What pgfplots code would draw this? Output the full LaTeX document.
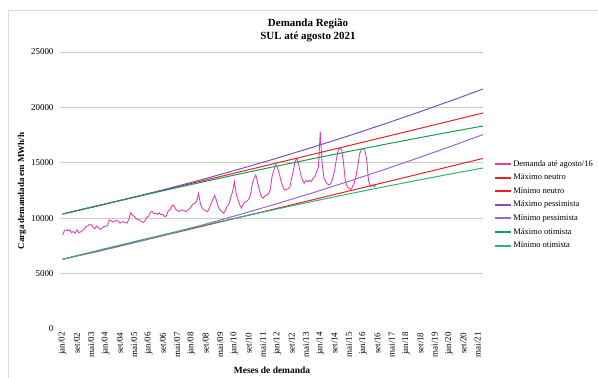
\documentclass[border=0pt]{standalone}
\usepackage{fontspec}
\setmainfont{Liberation Serif}
\usepackage{pgfplots}
\pgfplotsset{compat=1.18}
\definecolor{cpink}{RGB}{222,64,182}
\definecolor{cred}{RGB}{232,32,40}
\definecolor{cpurple}{RGB}{128,80,188}
\definecolor{cpurple2}{RGB}{150,104,206}
\definecolor{cgreen}{RGB}{20,156,86}
\definecolor{cgreen2}{RGB}{44,180,114}
\definecolor{cgrid}{RGB}{205,205,205}
\definecolor{cframe}{RGB}{217,217,217}
\begin{document}
\begin{tikzpicture}
\useasboundingbox (0,0) rectangle (598bp,378bp);
\draw[cframe, line width=0.8bp] (8bp,-2bp) -- (8bp,368bp) -- (600bp,368bp);
\node[font=\bfseries\fontsize{11}{13}\selectfont, align=center] at (308bp,348bp) {Demanda Região\\SUL até agosto 2021};
\node[font=\bfseries\fontsize{9.5}{11}\selectfont] at (272bp,8bp) {Meses de demanda};
\node[font=\bfseries\fontsize{9}{11}\selectfont, rotate=90] at (22bp,187bp) {Carga demandada em MWh/h};
\begin{axis}[
  at={(60bp,49bp)}, anchor=south west,
  scale only axis, width=423bp, height=277bp,
  xmin=-1.5, xmax=235, ymin=0, ymax=25000,
  axis line style={draw=none},
  tick style={draw=none},
  scaled y ticks=false,
  ytick={5000,10000,15000,20000,25000},
  extra y ticks={0},
  extra y tick style={grid=none},
  ymajorgrids, major grid style={cgrid, line width=0.8bp},
  /pgf/number format/1000 sep={},
  /pgf/number format/assume math mode=true,
  yticklabel style={font=\fontsize{9}{10}\selectfont, xshift=-3bp, /pgf/number format/1000 sep={}},
  xtick={0,8,...,232},
  xticklabels={jan/02,set/02,mai/03,jan/04,set/04,mai/05,jan/06,set/06,mai/07,jan/08,set/08,mai/09,jan/10,set/10,mai/11,jan/12,set/12,mai/13,jan/14,set/14,mai/15,jan/16,set/16,mai/17,jan/18,set/18,mai/19,jan/20,set/20,mai/21},
  xticklabel style={rotate=90, anchor=east, font=\fontsize{9}{10}\selectfont},
  legend style={at={(rel axis cs:1.026,0.615)}, anchor=north west, draw=none, fill=none,
    font=\fontsize{8.5}{9.5}\selectfont, row sep=3.2bp, inner sep=0pt,
    nodes={inner sep=1.5bp}},
  legend cell align=left,
  legend image code/.code={\draw[#1] (0cm,0cm) -- (0.55cm,0cm);},
  clip=false,
]
\addlegendimage{cpink, line width=2bp}
\addlegendentry{Demanda até agosto/16}
\addlegendimage{cred, line width=2bp}
\addlegendentry{Máximo neutro}
\addlegendimage{cred, line width=2bp}
\addlegendentry{Mínimo neutro}
\addlegendimage{cpurple, line width=2bp}
\addlegendentry{Máximo pessimista}
\addlegendimage{cpurple2, line width=2bp}
\addlegendentry{Mínimo pessimista}
\addlegendimage{cgreen, line width=2bp}
\addlegendentry{Máximo otimista}
\addlegendimage{cgreen2, line width=2bp}
\addlegendentry{Mínimo otimista}
\addplot[cpink, line width=0.9bp, forget plot] table {
t v
0 8450
1 8900
2 8950
3 8850
4 8950
5 8700
6 8800
7 8650
8 8950
9 8700
10 8750
11 8900
12 9000
13 9250
14 9300
15 9450
16 9450
17 9150
18 9050
19 9300
20 9150
21 9000
22 9100
23 9250
24 9250
25 9350
26 9850
27 9800
28 9650
29 9700
30 9800
31 9750
32 9550
33 9650
34 9700
35 9600
36 9550
37 9900
38 10500
39 10300
40 10150
41 10000
42 9850
43 9850
44 9700
45 9600
46 9750
47 10100
48 10150
49 10550
50 10600
51 10400
52 10450
53 10350
54 10500
55 10300
56 10350
57 10150
58 10200
59 10650
60 10750
61 11100
62 11200
63 10850
64 10700
65 10600
66 10700
67 10750
68 10650
69 10600
70 10750
71 10850
72 11100
73 11300
74 11350
75 11600
76 12250
77 11300
78 10900
79 10750
80 10650
81 10600
82 10900
83 11350
84 11700
85 12050
86 11600
87 11000
88 10750
89 10600
90 10450
91 10700
92 11100
93 11300
94 11900
95 12400
96 13300
97 12200
98 11700
99 11200
100 10900
101 11300
102 11450
103 11550
104 11700
105 12100
106 13100
107 13600
108 13900
109 13200
110 12500
111 12000
112 11800
113 12000
114 12100
115 12200
116 12500
117 13700
118 14300
119 14800
120 14600
121 14100
122 13400
123 12900
124 12550
125 12600
126 12650
127 12800
128 13600
129 14300
130 15200
131 15400
132 14800
133 14000
134 13500
135 13150
136 13400
137 13300
138 13450
139 13300
140 13600
141 13750
142 14200
143 14600
144 17800
145 15000
146 13700
147 13300
148 13100
149 13000
150 13150
151 13600
152 14300
153 15300
154 16100
155 16300
156 16200
157 15000
158 13400
159 12900
160 12700
161 12600
162 12800
163 13200
164 13800
165 14700
166 15800
167 16200
168 16300
169 16100
170 15200
171 13400
172 12850
173 13000
174 12850
175 12950
};
\addplot[cred, line width=1bp, forget plot] coordinates {
(0,10380) (20,11143) (40,11909) (60,12677) (80,13447) (100,14219) (120,14994) (140,15771) (160,16551) (180,17333) (200,18117) (220,18904) (235,19496)};
\addplot[cred, line width=1bp, forget plot] coordinates {
(0,6300) (20,7043) (40,7809) (60,8577) (80,9347) (100,10119) (120,10894) (140,11671) (160,12451) (180,13233) (200,14017) (220,14804) (235,15396)};
\addplot[cpurple, line width=1bp, forget plot] coordinates {
(0,10380) (20,11118) (40,11897) (60,12718) (80,13581) (100,14484) (120,15429) (140,16414) (160,17441) (180,18510) (200,19619) (220,20770) (235,21659)};
\addplot[cpurple2, line width=1bp, forget plot] coordinates {
(0,6300) (20,7008) (40,7787) (60,8608) (80,9471) (100,10374) (120,11319) (140,12304) (160,13331) (180,14400) (200,15509) (220,16660) (235,17549)};
\addplot[cgreen, line width=1bp, forget plot] coordinates {
(0,10380) (20,11141) (40,11887) (60,12617) (80,13331) (100,14029) (120,14711) (140,15377) (160,16027) (180,16661) (200,17279) (220,17881) (235,18323)};
\addplot[cgreen2, line width=1bp, forget plot] coordinates {
(0,6300) (20,7104) (40,7888) (60,8654) (80,9400) (100,10127) (120,10834) (140,11523) (160,12193) (180,12843) (200,13474) (220,14086) (235,14533)};
\end{axis}
\end{tikzpicture}
\end{document}
